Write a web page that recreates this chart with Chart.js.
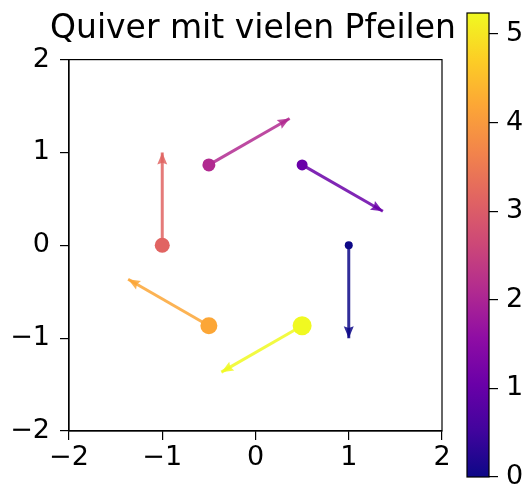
<!DOCTYPE html>
<html>
<head>
<meta charset="utf-8">
<script src="https://cdn.jsdelivr.net/npm/chart.js@4/dist/chart.umd.min.js"></script>
<style>
  body { margin: 0; background: #fff; }
  #wrap { position: relative; width: 528px; height: 486px; }
  canvas { position: absolute; left: 0; top: 0; }
</style>
</head>
<body>
<div id="wrap">
  <canvas id="quiver" width="528" height="486"></canvas>
  <canvas id="cbar" width="528" height="486"></canvas>
</div>
<script>
// DATA
let chartTitle = 'Quiver mit vielen Pfeilen';
let xs = [1, 0.5, -0.5, -1, -0.5, 0.5];
let ys = [0, 0.866, 0.866, 0, -0.866, -0.866];
let us = [0, 0.866, 0.866, 0, -0.866, -0.866];
let vs = [-1, -0.5, 0.5, 1, 0.5, -0.5];
let colorValues = [0, 1.047, 2.094, 3.142, 4.189, 5.236];
let axisTicks = [-2, -1, 0, 1, 2];
let colorbarTicks = [0, 1, 2, 3, 4, 5];

// styles
let dotRadius = [4, 5.5, 6.5, 7.5, 8.5, 9.5];
let plasmaStops = ['#0d0887', '#41049d', '#6a00a8', '#8f0da4', '#b12a90',
    '#cc4778', '#e16462', '#f2844b', '#fca636', '#fcce25', '#f0f921'];
let fontFamily = '"DejaVu Sans", Verdana, sans-serif';
let cMin = 0, cMax = 5.236;

function hexToRgb(h) {
    return [parseInt(h.substr(1, 2), 16), parseInt(h.substr(3, 2), 16), parseInt(h.substr(5, 2), 16)];
}
function plasma(t, alpha) {
    t = Math.max(0, Math.min(1, t));
    let pos = t * (plasmaStops.length - 1);
    let i = Math.min(Math.floor(pos), plasmaStops.length - 2);
    let f = pos - i;
    let a = hexToRgb(plasmaStops[i]), b = hexToRgb(plasmaStops[i + 1]);
    let c = a.map((v, k) => Math.round(v + (b[k] - v) * f));
    return 'rgba(' + c[0] + ',' + c[1] + ',' + c[2] + ',' + (alpha == null ? 1 : alpha) + ')';
}
function minusSign(v) {
    return String(v).replace('-', '\u2212');
}

let datasets = [];
// dots on the tails
datasets.push({
    type: 'scatter',
    order: 0,
    data: xs.map((x, i) => ({ x: x, y: ys[i] })),
    backgroundColor: colorValues.map(c => plasma((c - cMin) / (cMax - cMin))),
    borderWidth: 0,
    pointRadius: dotRadius,
    pointHoverRadius: dotRadius
});
// arrow shafts
for (let i = 0; i < xs.length; i++) {
    datasets.push({
        type: 'line',
        order: 1,
        isArrow: true,
        data: [{ x: xs[i], y: ys[i] }, { x: xs[i] + us[i], y: ys[i] + vs[i] }],
        borderColor: plasma((colorValues[i] - cMin) / (cMax - cMin), 0.85),
        borderWidth: 3,
        borderCapStyle: 'butt',
        pointRadius: 0,
        fill: false
    });
}

// arrow heads + box around the axes
const arrowHeads = {
    id: 'arrowHeads',
    afterDatasetsDraw(chart) {
        const ctx = chart.ctx;
        const sx = chart.scales.x, sy = chart.scales.y;
        chart.data.datasets.forEach(ds => {
            if (!ds.isArrow) return;
            const p0 = ds.data[0], p1 = ds.data[1];
            const x0 = sx.getPixelForValue(p0.x), y0 = sy.getPixelForValue(p0.y);
            const x1 = sx.getPixelForValue(p1.x), y1 = sy.getPixelForValue(p1.y);
            const ang = Math.atan2(y1 - y0, x1 - x0);
            const len = 12, half = 5;
            ctx.save();
            ctx.translate(x1, y1);
            ctx.rotate(ang);
            ctx.beginPath();
            ctx.moveTo(0, 0);
            ctx.lineTo(-len, half);
            ctx.lineTo(-len * 0.85, 0);
            ctx.lineTo(-len, -half);
            ctx.closePath();
            ctx.fillStyle = ds.borderColor;
            ctx.fill();
            ctx.restore();
        });
        const a = chart.chartArea;
        ctx.save();
        ctx.strokeStyle = '#000';
        ctx.lineWidth = 1.2;
        ctx.strokeRect(a.left, a.top, a.right - a.left, a.bottom - a.top);
        ctx.restore();
    }
};

let tickFont = { family: fontFamily, size: 27 };
let quiverCtx = document.getElementById('quiver').getContext('2d');
let quiverChart = new Chart(quiverCtx, {
    type: 'scatter',
    data: { datasets: datasets },
    options: {
        responsive: false,
        animation: false,
        devicePixelRatio: 1,
        layout: { padding: { left: 0, right: 22, top: 0, bottom: 0 } },
        plugins: {
            legend: { display: false },
            tooltip: { enabled: false },
            title: {
                display: true,
                text: chartTitle,
                color: '#000',
                font: { family: fontFamily, size: 33, weight: 'normal' },
                padding: { top: 10, bottom: 10 }
            }
        },
        scales: {
            x: {
                type: 'linear', min: -2, max: 2,
                afterBuildTicks: s => { s.ticks = axisTicks.map(v => ({ value: v })); },
                afterFit: s => { s.height = 55; },
                grid: { drawOnChartArea: false, drawTicks: true, tickLength: 9, color: '#000', lineWidth: 1.2 },
                border: { display: true, color: '#000', width: 1.2 },
                ticks: { color: '#000', font: tickFont, padding: 2, callback: minusSign, maxRotation: 0 }
            },
            y: {
                type: 'linear', min: -2, max: 2,
                afterBuildTicks: s => { s.ticks = axisTicks.map(v => ({ value: v })); },
                afterFit: s => { s.width = 69; },
                grid: { drawOnChartArea: false, drawTicks: true, tickLength: 9, color: '#000', lineWidth: 1.2 },
                border: { display: true, color: '#000', width: 1.2 },
                ticks: { color: '#000', font: tickFont, padding: 10, callback: minusSign }
            },
            // empty room on the right where the colorbar sits
            gap: {
                type: 'linear', position: 'right', axis: 'y', min: 0, max: 1,
                afterFit: s => { s.width = 64; },
                grid: { display: false },
                border: { display: false },
                ticks: { display: false }
            }
        }
    },
    plugins: [arrowHeads]
});

// colorbar
const colorbarFill = {
    id: 'colorbarFill',
    beforeDatasetsDraw(chart) {
        const ctx = chart.ctx;
        const a = chart.chartArea;
        const sy = chart.scales.y;
        const g = ctx.createLinearGradient(0, sy.getPixelForValue(cMin), 0, sy.getPixelForValue(cMax));
        plasmaStops.forEach((c, i) => g.addColorStop(i / (plasmaStops.length - 1), c));
        ctx.save();
        ctx.fillStyle = g;
        ctx.fillRect(a.left, a.top, a.right - a.left, a.bottom - a.top);
        ctx.strokeStyle = '#000';
        ctx.lineWidth = 1.2;
        ctx.strokeRect(a.left, a.top, a.right - a.left, a.bottom - a.top);
        ctx.restore();
    }
};
let cbarCtx = document.getElementById('cbar').getContext('2d');
let cbarChart = new Chart(cbarCtx, {
    type: 'scatter',
    data: { datasets: [{ data: [] }] },
    options: {
        responsive: false,
        animation: false,
        devicePixelRatio: 1,
        layout: { padding: { left: 467, right: 0, top: 13, bottom: 9 } },
        plugins: { legend: { display: false }, tooltip: { enabled: false } },
        scales: {
            x: { display: false, min: 0, max: 1 },
            y: {
                type: 'linear', position: 'right', min: cMin, max: cMax,
                afterBuildTicks: s => { s.ticks = colorbarTicks.map(v => ({ value: v })); },
                afterFit: s => { s.width = 39; s.paddingTop = 0; s.paddingBottom = 0; },
                grid: { drawOnChartArea: false, drawTicks: true, tickLength: 9, color: '#000', lineWidth: 1.2 },
                border: { display: false },
                ticks: { color: '#000', font: tickFont, padding: 8 }
            }
        }
    },
    plugins: [colorbarFill]
});
</script>
</body>
</html>
